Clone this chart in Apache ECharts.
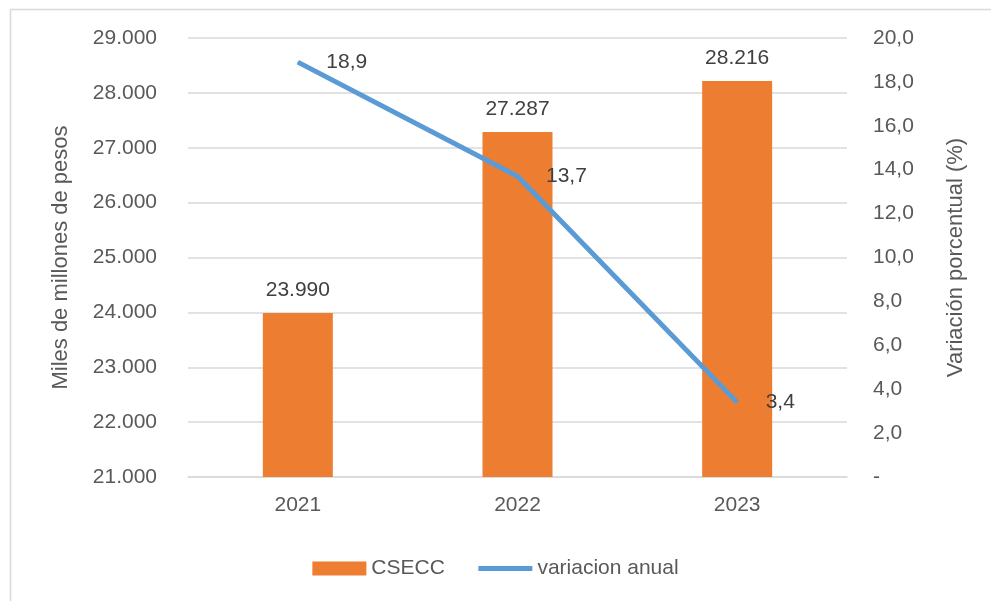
<!DOCTYPE html>
<html>
<head>
<meta charset="utf-8">
<script src="https://cdn.jsdelivr.net/npm/echarts@6/dist/echarts.min.js"></script>
<style>
html,body{margin:0;padding:0;background:#fff;}
#c{width:991px;height:601px;}
</style>
</head>
<body>
<div id="c"></div>
<script>
const categories = ['2021', '2022', '2023'];
const csecc = [23990, 27287, 28216];
const variacion = [18.9, 13.7, 3.4];

const FONT = '"Liberation Sans", Arial, sans-serif';
const fmtThousands = v => String(Math.round(v)).replace(/\B(?=(\d{3})+(?!\d))/g, '.');
const fmtPct = v => v === 0 ? '-' : v.toFixed(1).replace('.', ',');

const chart = echarts.init(document.getElementById('c'));
chart.setOption({
  animation: false,
  textStyle: { fontFamily: FONT },
  graphic: [{
    type: 'rect', left: 8, top: 7, silent: true,
    shape: { x: 0, y: 0, width: 990, height: 600 },
    style: { fill: 'none', stroke: '#d9d9d9', lineWidth: 1.5 }
  }],
  grid: { left: 188, right: 144, top: 38, bottom: 124 },
  legend: {
    left: 'center', top: 553, itemWidth: 54, itemHeight: 14, itemGap: 31,
    textStyle: { color: '#595959', fontSize: 21, fontFamily: FONT },
    data: [
      { name: 'CSECC', icon: 'rect' },
      { name: 'variacion anual', itemStyle: { opacity: 0 }, lineStyle: { width: 5, color: '#5B9BD5' } }
    ]
  },
  xAxis: {
    type: 'category', data: categories,
    axisLine: { show: true, lineStyle: { color: '#d9d9d9', width: 1.5 } },
    axisTick: { show: false },
    axisLabel: { color: '#595959', fontSize: 21, margin: 18, fontFamily: FONT }
  },
  yAxis: [{
    type: 'value', min: 21000, max: 29000, interval: 1000,
    name: 'Miles de millones de pesos', nameLocation: 'middle', nameGap: 116, nameRotate: 90,
    nameTextStyle: { color: '#595959', fontSize: 22, fontFamily: FONT },
    axisLine: { show: false }, axisTick: { show: false },
    axisLabel: { color: '#595959', fontSize: 21, margin: 31, formatter: fmtThousands, fontFamily: FONT },
    splitLine: { lineStyle: { color: '#d9d9d9', width: 1.5 } }
  }, {
    type: 'value', min: 0, max: 20, interval: 2,
    name: 'Variación porcentual (%)', nameLocation: 'middle', nameGap: 98, nameRotate: 90,
    nameTextStyle: { color: '#595959', fontSize: 22, fontFamily: FONT },
    axisLine: { show: false }, axisTick: { show: false },
    axisLabel: { color: '#595959', fontSize: 21, margin: 26, formatter: fmtPct, fontFamily: FONT },
    splitLine: { show: false }
  }],
  series: [{
    name: 'CSECC', type: 'bar', data: csecc, barWidth: 70,
    itemStyle: { color: '#ED7D31' },
    label: { show: true, position: 'top', distance: 12, color: '#404040', fontSize: 21,
      fontFamily: FONT, formatter: p => fmtThousands(p.value) }
  }, {
    name: 'variacion anual', type: 'line', yAxisIndex: 1, data: variacion,
    symbol: 'circle', symbolSize: 1, showSymbol: true,
    lineStyle: { color: '#5B9BD5', width: 5 }, itemStyle: { color: '#5B9BD5' },
    label: { show: true, position: 'right', distance: 28, color: '#404040', fontSize: 21,
      fontFamily: FONT, formatter: p => fmtPct(p.value) }
  }]
});
</script>
</body>
</html>
